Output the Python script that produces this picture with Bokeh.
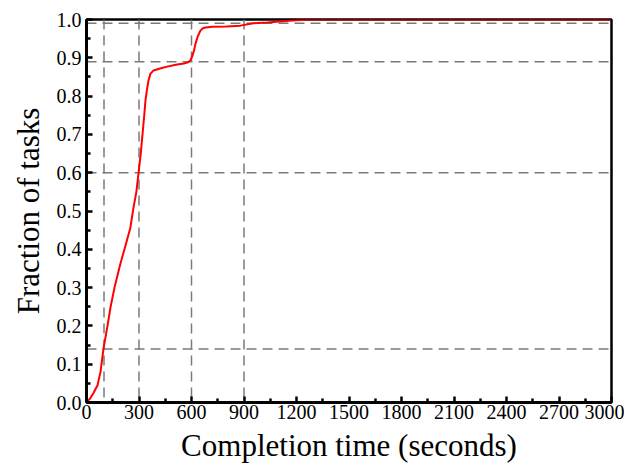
from bokeh.plotting import figure
from bokeh.models import FixedTicker, Span, NumeralTickFormatter, Range1d
from bokeh.embed import file_html
from bokeh.resources import INLINE

# Completion-time CDF (seconds, fraction of tasks)
times = [0, 20, 40, 63, 80, 97, 120, 137, 160, 194, 223, 250, 269, 285, 297,
         310, 320, 330, 337, 345, 354, 365, 383, 420, 461, 510, 556, 580, 594,
         605, 615, 623, 635, 651, 665, 680, 720, 800, 880, 954, 1034, 1100,
         1200, 1300, 1500, 2000, 3000]
fraction = [0.0, 0.01, 0.025, 0.045, 0.08, 0.14, 0.2, 0.248, 0.3, 0.363, 0.41,
            0.455, 0.51, 0.55, 0.598, 0.65, 0.70, 0.75, 0.789, 0.815, 0.84,
            0.858, 0.867, 0.872, 0.877, 0.882, 0.885, 0.888, 0.893, 0.905, 0.92,
            0.937, 0.955, 0.971, 0.977, 0.979, 0.981, 0.982, 0.984, 0.99, 0.992,
            0.995, 0.998, 1.0, 1.0, 1.0, 1.0]

# percentile marker lines
marker_times = [100, 300, 600, 900]
marker_fracs = [0.14, 0.6, 0.89, 0.99]

x_ticks = [0, 300, 600, 900, 1200, 1500, 1800, 2100, 2400, 2700, 3000]
y_ticks = [0.0, 0.1, 0.2, 0.3, 0.4, 0.5, 0.6, 0.7, 0.8, 0.9, 1.0]

FONT = "Liberation Serif"

p = figure(width=624, height=465, output_backend="svg", toolbar_location=None,
           x_range=Range1d(0, 3000), y_range=Range1d(0, 1.0),
           min_border_left=86, min_border_right=13, min_border_top=19,
           min_border_bottom=63, background_fill_color="white",
           border_fill_color="white")

p.xgrid.visible = False
p.ygrid.visible = False
p.outline_line_color = "black"
p.outline_line_width = 2.5
p.outline_line_alpha = 1.0

for x in marker_times:
    p.add_layout(Span(location=x, dimension="height", line_color="#7a7a7a",
                      line_width=1.5, line_dash="10 6", level="underlay"))
for y in marker_fracs:
    p.add_layout(Span(location=y, dimension="width", line_color="#7a7a7a",
                      line_width=1.5, line_dash="10 6", level="underlay"))

p.line(times, fraction, line_color="#ff0000", line_width=2)

minor_x = [t + 150 for t in x_ticks[:-1]]
minor_y = [round(t + 0.05, 2) for t in y_ticks[:-1]]
p.xaxis.ticker = FixedTicker(ticks=x_ticks, minor_ticks=minor_x)
p.yaxis.ticker = FixedTicker(ticks=y_ticks, minor_ticks=minor_y)
p.yaxis.formatter = NumeralTickFormatter(format="0.0")

for ax in (p.xaxis[0], p.yaxis[0]):
    ax.axis_line_color = "black"
    ax.axis_line_width = 3
    ax.major_tick_in = 6
    ax.major_tick_out = 0
    ax.minor_tick_in = 4
    ax.minor_tick_out = 0
    ax.major_tick_line_width = 2.5
    ax.minor_tick_line_width = 2.5
    ax.major_tick_line_color = "black"
    ax.minor_tick_line_color = "black"
    ax.major_label_text_font = FONT
    ax.major_label_text_font_size = "20px"
    ax.major_label_text_color = "black"
    ax.axis_label_text_font = FONT
    ax.axis_label_text_font_size = "31px"
    ax.axis_label_text_font_style = "normal"
    ax.axis_label_text_color = "black"

p.xaxis.axis_label = "Completion time (seconds)"
p.yaxis.axis_label = "Fraction of tasks"
p.xaxis.major_label_standoff = 2
p.xaxis.axis_label_standoff = 6
p.yaxis.major_label_standoff = 5
p.yaxis.axis_label_standoff = 8

open("out.html", "w").write(file_html(p, INLINE))
